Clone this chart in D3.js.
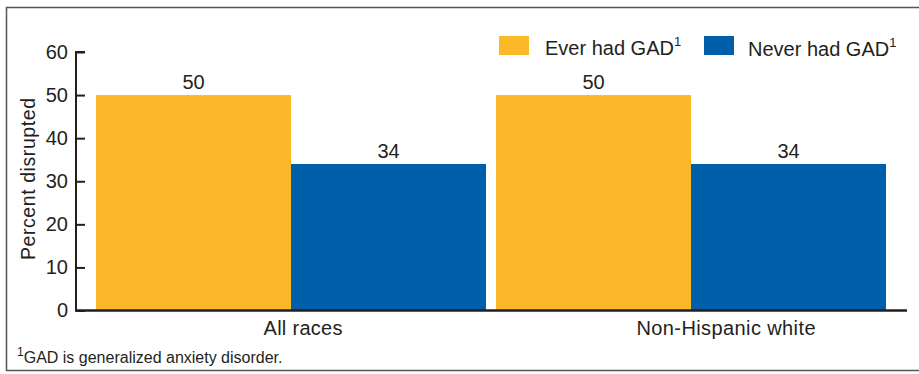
<!DOCTYPE html>
<html>
<head>
<meta charset="utf-8">
<script src="https://cdn.jsdelivr.net/npm/d3@7"></script>
<style>
  body { margin: 0; background: #fff; }
  text { font-family: "Liberation Sans", Arial, sans-serif; fill: #231f20; }
</style>
</head>
<body>
<div id="chart"></div>
<script>
// data
const groups = ["All races", "Non-Hispanic white"];
const seriesNames = ["Ever had GAD", "Never had GAD"];
const everHad = [50, 50];
const neverHad = [34, 34];
const yTicks = [0, 10, 20, 30, 40, 50, 60];
const colors = ["#fbb829", "#005faa"];

const W = 919, H = 374;
const svg = d3.select("#chart").append("svg")
  .attr("width", W).attr("height", H);

// frame
svg.append("rect")
  .attr("x", 6.5).attr("y", 7.5)
  .attr("width", 930).attr("height", 363)
  .attr("fill", "none").attr("stroke", "#555").attr("stroke-width", 1.5);

const plot = {left: 76, right: 907, top: 52, bottom: 310.5};

var y = d3.scaleLinear().domain([0, 60]).range([plot.bottom, plot.top]);
var x0 = d3.scaleBand().domain(groups).range([96, 886]).paddingInner(10 / 400);
var x1 = d3.scaleBand().domain(seriesNames).range([0, x0.bandwidth()]);

var rows = groups.map((g, i) => ({group: g, vals: [everHad[i], neverHad[i]]}));

// bars
var g = svg.selectAll(".grp").data(rows).enter().append("g")
  .attr("transform", d => "translate(" + x0(d.group) + ",0)");

g.selectAll("rect")
  .data(d => d.vals.map((v, j) => ({name: seriesNames[j], v: v, j: j})))
  .enter().append("rect")
  .attr("x", d => x1(d.name))
  .attr("y", d => y(d.v))
  .attr("width", x1.bandwidth())
  .attr("height", d => y(0) - y(d.v))
  .attr("fill", d => colors[d.j]);

g.selectAll(".val")
  .data(d => d.vals.map((v, j) => ({name: seriesNames[j], v: v})))
  .enter().append("text")
  .attr("x", d => x1(d.name) + x1.bandwidth() / 2)
  .attr("y", d => y(d.v) - 6)
  .attr("text-anchor", "middle")
  .attr("font-size", 20)
  .text(d => d.v);

// y axis
var yAxis = d3.axisLeft(y).tickValues(yTicks).tickSize(-9).tickPadding(8);
var ya = svg.append("g").attr("transform", "translate(" + plot.left + ",0)").call(yAxis);
ya.select(".domain").attr("stroke", "#231f20").attr("stroke-width", 2)
  .attr("d", "M9," + plot.top + "H0V" + plot.bottom);
ya.selectAll(".tick line").attr("stroke", "#231f20").attr("stroke-width", 2);
ya.selectAll(".tick text").attr("font-size", 20).attr("fill", "#231f20")
  .style("font-family", "'Liberation Sans', Arial, sans-serif");

// baseline
svg.append("line")
  .attr("x1", plot.left - 1).attr("x2", plot.right)
  .attr("y1", y(0)).attr("y2", y(0))
  .attr("stroke", "#231f20").attr("stroke-width", 2.5);

// x labels (the original sets them a bit right of the group centre)
var labelShift = [12, 35];
svg.selectAll(".xl").data(groups).enter().append("text")
  .attr("x", (d, i) => x0(d) + x0.bandwidth() / 2 + labelShift[i])
  .attr("y", 335)
  .attr("text-anchor", "middle")
  .attr("font-size", 20)
  .attr("textLength", (d, i) => i ? 179 : 79)
  .text(d => d);

// y title
svg.append("text")
  .attr("transform", "translate(35,179) rotate(-90)")
  .attr("text-anchor", "middle")
  .attr("font-size", 19.5)
  .attr("textLength", 162)
  .attr("lengthAdjust", "spacing")
  .text("Percent disrupted");

// legend
var legX = [499, 704];
seriesNames.forEach((n, i) => {
  svg.append("rect").attr("x", legX[i]).attr("y", 36)
    .attr("width", 30).attr("height", 19).attr("fill", colors[i]);
  var t = svg.append("text").attr("x", legX[i] + 46 + (i ? -2 : 0)).attr("y", 55 + i)
    .attr("font-size", 20).text(n);
  t.append("tspan").attr("dy", -9).attr("font-size", 13).text("1");
});

// footnote
var fn = svg.append("text").attr("x", 17).attr("y", 363).attr("font-size", 16);
fn.append("tspan").attr("dy", -7).attr("font-size", 12).text("1");
fn.append("tspan").attr("dy", 7).text("GAD is generalized anxiety disorder.");
</script>
</body>
</html>
